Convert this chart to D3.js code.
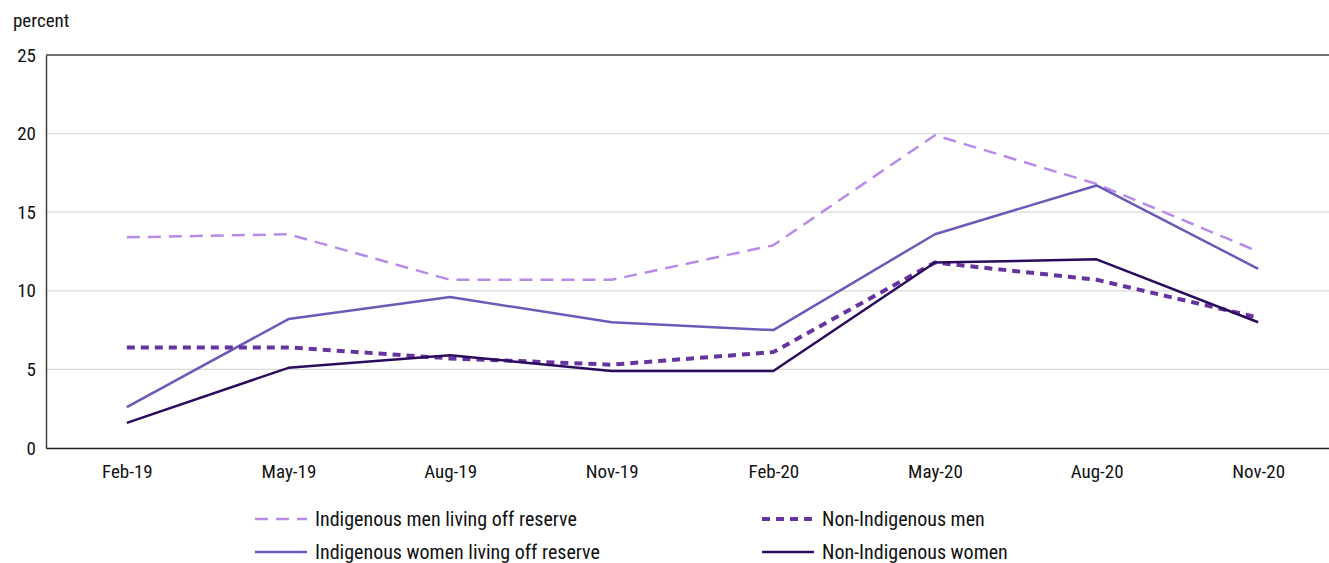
<!DOCTYPE html>
<html>
<head>
<meta charset="utf-8">
<script src="https://cdn.jsdelivr.net/npm/d3@7"></script>
<style>
  html, body { margin: 0; padding: 0; background: #fff; }
  svg { display: block; }
  svg text { font-family: "Liberation Sans Narrow", "Roboto Condensed", "DejaVu Sans Condensed", sans-serif; }
</style>
</head>
<body>
<div id="chart"></div>
<script>
// Unemployment rate, percent — quarterly, Feb-19 to Nov-20

const periods = ['Feb-19', 'May-19', 'Aug-19', 'Nov-19', 'Feb-20', 'May-20', 'Aug-20', 'Nov-20'];
const yTicks = [0, 5, 10, 15, 20, 25];

const indigenousMen   = [13.4, 13.6, 10.7, 10.7, 12.9, 19.9, 16.8, 12.5];
const indigenousWomen = [2.6, 8.2, 9.6, 8.0, 7.5, 13.6, 16.7, 11.4];
const nonIndigenousMen   = [6.4, 6.4, 5.7, 5.3, 6.1, 11.8, 10.7, 8.3];
const nonIndigenousWomen = [1.6, 5.1, 5.9, 4.9, 4.9, 11.8, 12.0, 8.0];

const seriesNames = [
    'Indigenous men living off reserve',
    'Indigenous women living off reserve',
    'Non-Indigenous men',
    'Non-Indigenous women'
];

(function () {
    const W = 1329, H = 563;
    const M = { top: 55, right: -10, bottom: 115, left: 46 };
    const iW = W - M.left - M.right;
    const iH = H - M.top - M.bottom;

    const svg = d3.select('#chart').append('svg')
        .attr('width', W).attr('height', H);

    const g = svg.append('g').attr('transform', `translate(${M.left},${M.top})`);

    const x = d3.scalePoint().domain(periods).range([0, iW]).padding(0.5);
    const y = d3.scaleLinear().domain([0, 25]).range([iH, 0]);

    // gridlines
    g.append('g').selectAll('line')
        .data(yTicks.filter(d => d > 0 && d < 25)).enter().append('line')
        .attr('x1', 0).attr('x2', iW)
        .attr('y1', d => y(d)).attr('y2', d => y(d))
        .attr('stroke', '#d9d9d9').attr('stroke-width', 1.2);

    // frame: top, left, bottom
    g.append('line').attr('x1', 0).attr('x2', iW).attr('y1', 0).attr('y2', 0)
        .attr('stroke', '#404040').attr('stroke-width', 1.5);

    const yAxis = g.append('g')
        .call(d3.axisLeft(y).tickValues(yTicks).tickSize(0).tickPadding(10))
        .attr('font-family', null).attr('font-size', null);
    yAxis.select('.domain').attr('stroke', '#404040').attr('stroke-width', 1.5);
    yAxis.selectAll('text').attr('font-size', 19).attr('fill', '#111');

    const xAxis = g.append('g').attr('transform', `translate(0,${iH})`)
        .call(d3.axisBottom(x).tickSize(0).tickPadding(17))
        .attr('font-family', null).attr('font-size', null);
    xAxis.select('.domain').attr('stroke', '#222').attr('stroke-width', 1.5);
    xAxis.selectAll('text').attr('font-size', 19).attr('fill', '#111');

    svg.append('text').attr('x', 13).attr('y', 27)
        .attr('font-size', 19).attr('fill', '#111').text('percent');

    const series = [
        { name: seriesNames[0], values: indigenousMen, color: '#b98be8', width: 2.5, dash: '13,8' },
        { name: seriesNames[1], values: indigenousWomen, color: '#6a5bb9', width: 2.5, dash: null },
        { name: seriesNames[2], values: nonIndigenousMen, color: '#66349e', width: 4, dash: '8,6' },
        { name: seriesNames[3], values: nonIndigenousWomen, color: '#2b0b5c', width: 2.5, dash: null }
    ];

    const line = d3.line()
        .x((d, i) => x(periods[i]))
        .y(d => y(d));

    g.selectAll('path.series').data(series).enter().append('path')
        .attr('class', 'series')
        .attr('d', d => line(d.values))
        .attr('fill', 'none')
        .attr('stroke', d => d.color)
        .attr('stroke-width', d => d.width)
        .attr('stroke-dasharray', d => d.dash)
        .attr('stroke-linejoin', 'round');

    // legend: 2 x 2
    const legendPos = [
        { x: 255, y: 519 }, { x: 255, y: 552 },
        { x: 762, y: 519 }, { x: 762, y: 552 }
    ];
    const lg = svg.append('g').selectAll('g').data(series).enter().append('g')
        .attr('transform', (d, i) => `translate(${legendPos[i].x},${legendPos[i].y})`);
    lg.append('line').attr('x1', 0).attr('x2', 52).attr('y1', 0).attr('y2', 0)
        .attr('stroke', d => d.color)
        .attr('stroke-width', d => d.width)
        .attr('stroke-dasharray', d => d.dash);
    lg.append('text').attr('x', 60).attr('y', 0).attr('dy', '0.35em')
        .attr('font-size', 20).attr('fill', '#111').text(d => d.name);
})();
</script>
</body>
</html>
